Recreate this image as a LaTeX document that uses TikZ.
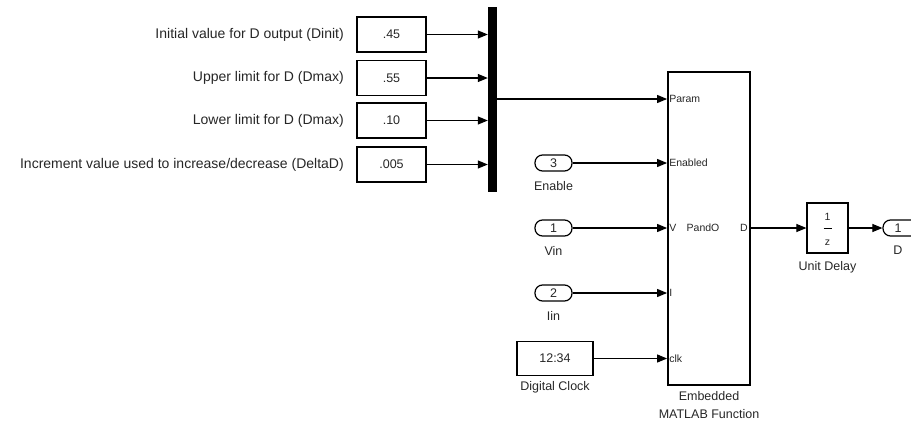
\documentclass[tikz,border=0pt]{standalone}
\usepackage{fontspec}
\setmainfont{Liberation Sans}
\usetikzlibrary{arrows.meta,calc,positioning}

\begin{document}
\begin{tikzpicture}[x=1pt,y=-1pt,
  every node/.style={font=\fontsize{12.5}{18}\selectfont,text=black!85,inner sep=0pt},
  blk/.style={draw,line width=1.2pt,minimum width=69pt,minimum height=35pt},
  inport/.style={draw,line width=1.2pt,rounded corners=7.5pt,minimum width=37pt,minimum height=16pt},
  sig/.style={line width=1.1pt,-{Triangle[length=10pt,width=8pt]}},
  port/.style={font=\fontsize{10.5}{12}\selectfont},
  desc/.style={font=\fontsize{14}{16}\selectfont,anchor=east}]

\useasboundingbox (0,0) rectangle (911,426);

% Define the constant blocks and the mux.
\node[fill=black,minimum width=9pt,minimum height=185pt] (mux) at (492.5,99.5) {};

\foreach \y/\val/\txt [count=\i] in {34.5/.45/{Initial value for D output (Dinit)},
    78/.55/{Upper limit for D (Dmax)},
    120.5/.10/{Lower limit for D (Dmax)},
    164.5/.005/{Increment value used to increase/decrease (DeltaD)}}{
  \node[blk] (k\i) at (391.5,\y) {\val};
  \node[desc] (d\i) at (344,\y) {\txt};
  \draw[sig] (k\i.east) -- (k\i.east -| mux.west);
}

% The embedded function and its ports.
\node[draw,line width=1.8pt,minimum width=82pt,minimum height=313pt] (fcn) at (709,228.5) {};
\node[align=center,below=5pt of fcn] (fcnl) {Embedded\\MATLAB Function};

\foreach \n/\y/\txt in {pParam/99/Param,pEn/163/Enabled,pV/228/V,pI/293/I,pClk/358.5/clk}{
  \coordinate (\n) at (fcn.west |- 0,\y);
  \node[port,anchor=west] (\n l) at ([xshift=2pt]\n) {\txt};
}
\node[port] (pando) at (703,228) {PandO};
\node[port,anchor=east] (pD) at ([xshift=-3pt]fcn.east |- pV) {D};

\draw[sig] (mux.east |- pParam) -- (pParam);

% Inputs.
\node[inport] (en) at (553.5,163) {3};
\node[below=10pt of en] (enl) {Enable};
\node[inport] (vin) at (553.5,228) {1};
\node[below=10pt of vin] (vinl) {Vin};
\node[inport] (iin) at (553.5,293) {2};
\node[below=10pt of iin] (iinl) {Iin};
\node[draw,line width=1.2pt,minimum width=76pt,minimum height=34pt] (clk) at (555,358.5) {12:34};
\node[below=5pt of clk] (clkl) {Digital Clock};

\draw[sig] (en.east) -- (pEn);
\draw[sig] (vin.east) -- (pV);
\draw[sig] (iin.east) -- (pI);
\draw[sig] (clk.east) -- (pClk);

% Unit delay and output.
\node[draw,line width=1.2pt,minimum width=41pt,minimum height=50pt] (ud) at (827.5,228) {};
\node[port] (udn) at ([yshift=11pt]ud.center) {1};
\node[port] (udd) at ([yshift=-15pt]ud.center) {z};
\draw[line width=0.8pt] ([xshift=-4pt]ud.center) -- ([xshift=4pt]ud.center);
\node[below=8pt of ud] (udl) {Unit Delay};

\node[inport] (out) at (901.5,228) {\hspace*{-7pt}1};
\node[below=9pt of out,xshift=-3.5pt] (outl) {D};

\draw[sig] (pV -| fcn.east) -- (ud.west);
\draw[sig] (ud.east) -- (out.west);

\end{tikzpicture}
\end{document}
